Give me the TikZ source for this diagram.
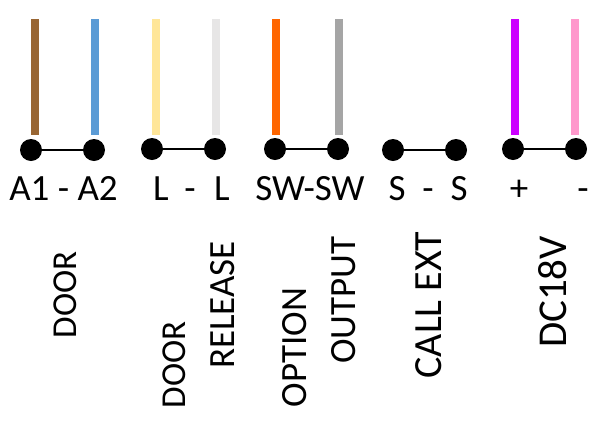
\documentclass[tikz,border=0pt]{standalone}
\usepackage{fontspec}
\setmainfont{Carlito}
\definecolor{wbrown}{HTML}{996633}
\definecolor{wblue}{HTML}{5B9BD5}
\definecolor{wyellow}{HTML}{FFE699}
\definecolor{wlight}{HTML}{E7E6E6}
\definecolor{worange}{HTML}{FF6600}
\definecolor{wgrey}{HTML}{A5A5A5}
\definecolor{wviolet}{HTML}{CC00FF}
\definecolor{wpink}{HTML}{FF99CC}
\tikzset{
  term/.style={circle,fill=black,draw=none,minimum size=22pt,inner sep=0pt},
  link/.style={black,line width=2pt},
  wire/.style={line width=8pt},
  pin/.style={font=\fontsize{37}{37}\selectfont,inner sep=0pt,anchor=base},
  vlabel/.style={font=\fontsize{#1}{#1}\selectfont,inner sep=0pt,rotate=90,anchor=base},
  vlabel/.default=37
}
\begin{document}
\begin{tikzpicture}[x=1pt,y=-1pt]
\useasboundingbox (0,0) rectangle (600,432);
\node[term] (t1) at (31,150) {};
\node[term] (t2) at (94,150) {};
\node[term] (t3) at (152,149) {};
\node[term] (t4) at (215,149) {};
\node[term] (t5) at (275,149) {};
\node[term] (t6) at (338,149) {};
\node[term] (t7) at (393,150) {};
\node[term] (t8) at (456,150) {};
\node[term] (t9) at (513,149) {};
\node[term] (t10) at (576,149) {};
\draw[link] (t1) -- (t2);
\draw[link] (t3) -- (t4);
\draw[link] (t5) -- (t6);
\draw[link] (t7) -- (t8);
\draw[link] (t9) -- (t10);
\foreach \n/\x/\c in {a/35/wbrown,b/95/wblue,c/156/wyellow,d/216/wlight,e/276/worange,f/339/wgrey,g/515/wviolet,h/575/wpink}{
  \coordinate (\n top) at (\x,19);
  \coordinate (\n bot) at (\x,135);
  \draw[wire,\c] (\n top) -- (\n bot);
}
\node[pin] (p1) at (63.5,200) {A1 - A2};
\node[pin] (p2) at (161,200) {L};
\node[pin] (p3) at (190,200) {-};
\node[pin] (p4) at (222,200) {L};
\node[pin] (p5) at (310,200) {SW-SW};
\node[pin] (p6) at (397,200) {S};
\node[pin] (p7) at (428,200) {-};
\node[pin] (p8) at (459,200) {S};
\node[pin] (p9) at (519,200) {+};
\node[pin] (p10) at (583,200) {-};
\node[vlabel=35] (l1) at (76,295) {DOOR};
\node[vlabel=35] (l2) at (185,365) {DOOR};
\node[vlabel=37] (l3) at (234,305) {RELEASE};
\node[vlabel=37] (l4) at (306,347.5) {OPTION};
\node[vlabel=37] (l5) at (355,300) {OUTPUT};
\node[vlabel=40] (l6) at (441,305) {CALL EXT};
\node[vlabel=41] (l7) at (566,292) {DC18V};
\end{tikzpicture}
\end{document}
